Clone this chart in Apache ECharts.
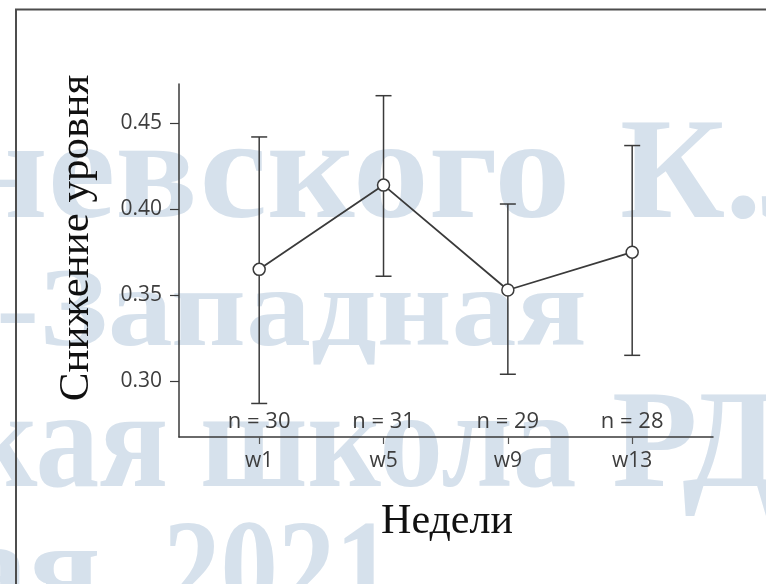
<!DOCTYPE html>
<html>
<head>
<meta charset="utf-8">
<script src="https://cdn.jsdelivr.net/npm/echarts@6.0.0/dist/echarts.min.js"></script>
<style>
  html, body { margin: 0; padding: 0; background: #fff; }
  #chart { width: 766px; height: 584px; }
</style>
</head>
<body>
<div id="chart"></div>
<script>
// данные
const weeks = ['w1', 'w5', 'w9', 'w13'];
const weekPos = [1, 2, 3, 4];
const meanValues = [0.365, 0.414, 0.353, 0.375];
const upperValues = [0.442, 0.466, 0.403, 0.437];
const lowerValues = [0.287, 0.361, 0.304, 0.315];
const sampleSizes = [30, 31, 29, 28];
const yTicks = [0.30, 0.35, 0.40, 0.45];

const ink = '#3a3a3a';
const tickFont = '"Open Sans", "Noto Sans", sans-serif';
const wmColor = '#d6e1ec';

const chart = echarts.init(document.getElementById('chart'));

// водяной знак
function wm(text, x, y, size, align, scaleX) {
  return {
    type: 'text', z: -10, silent: true,
    x: x, y: y, scaleX: scaleX || 1,
    style: {
      text: text,
      fill: wmColor,
      font: 'bold ' + size + 'px "Liberation Serif", serif',
      textAlign: align,
      textVerticalAlign: 'middle',
      shadowBlur: 3,
      shadowColor: wmColor
    }
  };
}

const option = {
  backgroundColor: '#fff',
  animation: false,
  grid: {
    left: 179, right: 53, top: 84, bottom: 147,
    containLabel: false,
    outerBoundsMode: 'none'
  },
  xAxis: {
    type: 'value',
    min: 0.355,
    max: 4.65,
    splitLine: { show: false },
    axisLine: { show: true, onZero: false, lineStyle: { color: ink, width: 1.5 } },
    axisTick: { show: true, customValues: weekPos, length: 7, lineStyle: { color: '#555', width: 1.2 } },
    axisLabel: {
      customValues: weekPos,
      margin: 14,
      color: '#3d3d3d',
      fontFamily: tickFont,
      fontSize: 21,
      formatter: function (v) { return weeks[Math.round(v) - 1]; }
    }
  },
  yAxis: {
    type: 'value',
    min: 0.2675,
    max: 0.4728,
    splitLine: { show: false },
    axisLine: { show: true, onZero: false, lineStyle: { color: ink, width: 1.5 } },
    axisTick: { show: true, customValues: yTicks, length: 9, lineStyle: { color: ink, width: 1.2 } },
    axisLabel: {
      customValues: yTicks,
      margin: 17,
      color: '#3d3d3d',
      fontFamily: tickFont,
      fontSize: 21,
      formatter: function (v) { return v.toFixed(2); }
    }
  },
  graphic: [
    wm('невского', -40, 180, 145, 'left', 1.05),
    wm('К.Л.', 620, 180, 145, 'left', 1),
    wm('-Западная', -4, 316, 112, 'left', 1.16),
    wm('кая школа', -36, 450, 140, 'left', 0.91),
    wm('РД', 612, 450, 140, 'left', 1),
    wm('ая', -40, 578, 135, 'left', 1),
    wm('2021', 163, 578, 135, 'left', 0.85),
    // рамка
    { type: 'polyline', z: 5, silent: true,
      shape: { points: [[16, 584], [16, 9.5], [766, 9.5]] },
      style: { stroke: '#4d4d4d', lineWidth: 2, fill: null } },
    // подписи осей
    { type: 'text', z: 5, x: 77, y: 238, rotation: Math.PI / 2,
      style: { text: 'Снижение уровня', fill: '#111', font: '43px "Liberation Serif", serif',
        textAlign: 'center', textVerticalAlign: 'middle' } },
    { type: 'text', z: 5, x: 447, y: 522,
      style: { text: 'Недели', fill: '#111', font: '42px "Liberation Serif", serif',
        textAlign: 'center', textVerticalAlign: 'middle' } }
  ],
  series: [
    {
      type: 'custom',
      z: 3,
      data: weekPos.map(function (x, i) { return [x, lowerValues[i], upperValues[i], sampleSizes[i]]; }),
      renderItem: function (params, api) {
        const x = api.value(0);
        const top = api.coord([x, api.value(2)]);
        const bot = api.coord([x, api.value(1)]);
        const base = api.coord([x, 0.2675]);
        const half = 8;
        const st = { stroke: ink, lineWidth: 1.5 };
        return {
          type: 'group',
          children: [
            { type: 'line', shape: { x1: top[0], y1: top[1], x2: bot[0], y2: bot[1] }, style: st },
            { type: 'line', shape: { x1: top[0] - half, y1: top[1], x2: top[0] + half, y2: top[1] }, style: st },
            { type: 'line', shape: { x1: bot[0] - half, y1: bot[1], x2: bot[0] + half, y2: bot[1] }, style: st },
            { type: 'text', x: base[0], y: base[1] - 15,
              style: { text: 'n = ' + api.value(3), fill: '#3d3d3d',
                font: '22px ' + tickFont, textAlign: 'center', textVerticalAlign: 'middle' } }
          ]
        };
      }
    },
    {
      type: 'line',
      z: 4,
      data: weekPos.map(function (x, i) { return [x, meanValues[i]]; }),
      symbol: 'circle',
      symbolSize: 12,
      lineStyle: { color: ink, width: 1.8 },
      itemStyle: { color: '#fff', borderColor: ink, borderWidth: 1.5 }
    }
  ]
};

chart.setOption(option);
</script>
</body>
</html>
